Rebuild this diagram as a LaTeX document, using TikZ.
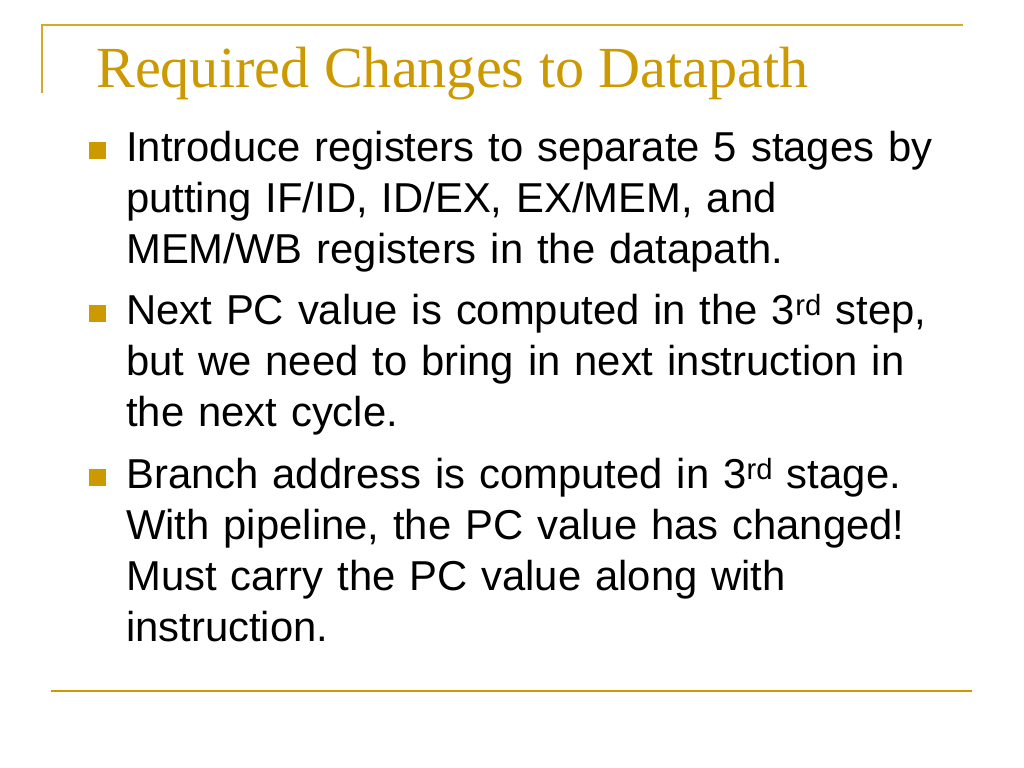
\documentclass[tikz,border=0pt]{standalone}
\usepackage{fontspec}
\setmainfont{Liberation Sans}
\newfontfamily\titlefont{Liberation Serif}
\usepackage{tikz}
\usetikzlibrary{positioning}

\definecolor{slidegold}{RGB}{204,153,0}
\definecolor{rulegold}{RGB}{214,170,40}

\tikzset{
  bulletsq/.style={fill=slidegold,minimum size=17bp,inner sep=0pt,anchor=south west},
  bullettext/.style={anchor=base west,inner sep=0pt,text width=880bp,align=left,
    font=\fontsize{41.8bp}{51.3bp}\selectfont},
}

\begin{document}
\begin{tikzpicture}[x=1bp,y=-1bp]
    \useasboundingbox[fill=white] (0,0) rectangle (1024,768);
    % frame lines
    \coordinate (tl) at (42,25);
    \coordinate (tr) at (963,25);
    \coordinate (lb) at (42,93);
    \draw[rulegold,line width=1.6bp] (lb)--(tl)--(tr);
    \coordinate (bl) at (51,691);
    \coordinate (br) at (972,691);
    \draw[slidegold,line width=2.2bp] (bl)--(br);
    % title
    \node[anchor=base west,inner sep=0pt,text=slidegold,
      font=\titlefont\fontsize{58.2bp}{60bp}\selectfont] (title) at (96,88)
      {Required Changes to Datapath};
    % bullets
    \node[bullettext] (b1) at (126,161)
      {Introduce registers to separate 5 stages by\\
       putting IF/ID, ID/EX, EX/MEM, and\\
       MEM/WB registers in the datapath.};
    \node[bullettext] (b2) at (126,324)
      {Next PC value is computed in the 3\textsuperscript{rd} step,\\
       but we need to bring in next instruction in\\
       the next cycle.};
    \node[bullettext] (b3) at (126,488)
      {Branch address is computed in 3\textsuperscript{rd} stage.\\
       With pipeline, the PC value has changed!\\
       Must carry the PC value along with\\
       instruction.};
    \foreach \b/\y in {1/159,2/322,3/486}{
      \node[bulletsq] (sq\b) at (89,\y) {};
    }
  \end{tikzpicture}
\end{document}
